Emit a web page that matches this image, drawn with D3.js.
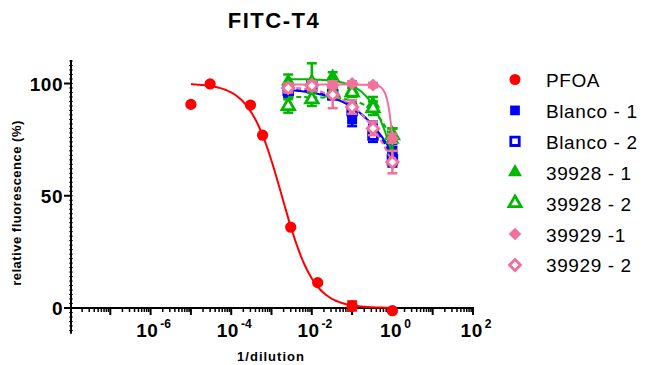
<!DOCTYPE html>
<html>
<head>
<meta charset="utf-8">
<script src="https://cdn.jsdelivr.net/npm/d3@7"></script>
<style>
  html, body { margin: 0; padding: 0; background: #fff; }
  svg text { font-family: Arial, "Liberation Sans", sans-serif; }
</style>
</head>
<body>
<svg id="chart" width="648" height="365"></svg>
<script>
// series
const seriesNames = ["PFOA", "Blanco - 1", "Blanco - 2", "39928 - 1", "39928 - 2", "39929 -1", "39929 - 2"];
const seriesColors = ["#ff0000", "#0000ff", "#0000ff", "#00b800", "#00b800", "#f2709c", "#f2709c"];
const seriesShapes = ["circle", "square", "square", "triangle", "triangle", "diamond", "diamond"];
const seriesOpen = [false, false, true, false, true, false, true];

// x values (1/dilution)
const pfoaX = [1e-5, 3e-5, 3e-4, 6e-4, 3e-3, 0.014, 0.1, 1];
const dilX = [0.0026, 0.01, 0.033, 0.1, 0.33, 1];

// y values (relative fluorescence %)
const pfoaY = [90.7, 99.8, 90.4, 77, 36, 11.3, 0.9, -1.2];
const blanco1Y = [96, 98, 97, 84, 80, 70];
const blanco2Y = [97, 99, 95, 88, 77, 66];
const t39928a = [101, 101, 103, 97, 91, 75];
const t39928b = [90, 93, 96, 96, 89, 77];
const t39929a = [98, 99.8, 99, 100, 99.3, 75.5];
const t39929b = [98, 99, 95, 89.5, 80, 65];

// error (SEM)
const pfoaErr = [0, 0, 0, 0, 0, 0, 2, 0];
const blanco1Err = [2, 2, 2, 3, 3, 3];
const blanco2Err = [2, 2, 2, 3, 3, 3];
const e39928a = [3, 8, 2, 2, 3, 5];
const e39928b = [3, 3, 2, 2, 3, 3];
const e39929a = [1, 1, 1, 1, 1, 2];
const e39929b = [2, 2, 6, 3, 3, 5];

// fitted 4PL curves: top, bottom, IC50, hill, x-range
const fitTop = [100, 98, 98, 102, 94, 99.5, 99];
const fitBottom = [0, 0, 0, 0, 0, 0, 0];
const fitIC50 = [1.8e-3, 3.9, 3.0, 1.8, 3.0, 1.25, 2.46];
const fitHill = [1.1, 0.64, 0.7, 1.2, 1.2, 5, 0.72];
const fitFrom = [1e-5, 0.0026, 0.0026, 0.0026, 0.0026, 0.0026, 0.0026];
const fitTo = [1, 1, 1, 1, 1, 1, 1];

// axis ticks
const xTickExp = [-6, -4, -2, 0, 2];
const yTicks = [0, 50, 100];

const allX = [pfoaX, dilX, dilX, dilX, dilX, dilX, dilX];
const allY = [pfoaY, blanco1Y, blanco2Y, t39928a, t39928b, t39929a, t39929b];
const allErr = [pfoaErr, blanco1Err, blanco2Err, e39928a, e39928b, e39929a, e39929b];

const svg = d3.select("#chart");

const x = d3.scaleLog().domain([1e-8, 1e2]).range([70, 473]);
const y = d3.scaleLinear().domain([0, 100]).range([308, 83.5]);

const axisX0 = 71;

// title
svg.append("text")
  .attr("x", 274).attr("y", 28)
  .attr("text-anchor", "middle")
  .attr("font-size", "22px").attr("font-weight", "bold")
  .attr("letter-spacing", "1.5px")
  .text("FITC-T4");

// y axis
const gy = svg.append("g");
gy.append("line")
  .attr("x1", axisX0).attr("x2", axisX0)
  .attr("y1", y(110.5)).attr("y2", y(-11.5))
  .attr("stroke", "#000").attr("stroke-width", 2);
// fine ticks along the axis
gy.selectAll(".ymin").data(d3.range(-10, 111, 2)).join("line")
  .attr("x1", axisX0 - 2).attr("x2", axisX0 + 2)
  .attr("y1", d => y(d)).attr("y2", d => y(d))
  .attr("stroke", "#000").attr("stroke-width", 0.8);
gy.selectAll(".ymaj").data(yTicks).join("line")
  .attr("x1", axisX0 - 7).attr("x2", axisX0)
  .attr("y1", d => y(d)).attr("y2", d => y(d))
  .attr("stroke", "#000").attr("stroke-width", 2);
gy.selectAll(".ylab").data(yTicks).join("text")
  .attr("x", 63).attr("y", d => y(d) + 7)
  .attr("text-anchor", "end")
  .attr("font-size", "19px").attr("font-weight", "bold")
  .attr("letter-spacing", "0.5px")
  .text(d => d);

svg.append("text")
  .attr("transform", `translate(21,${203}) rotate(-90)`)
  .attr("text-anchor", "middle")
  .attr("font-size", "13px").attr("font-weight", "bold")
  .attr("letter-spacing", "0.5px")
  .text("relative fluorescence (%)");

// x axis (crosses at y = 0)
const gx = svg.append("g");
const y0 = y(0);
gx.append("line")
  .attr("x1", axisX0).attr("x2", x(1e2) + 1)
  .attr("y1", y0).attr("y2", y0)
  .attr("stroke", "#000").attr("stroke-width", 2);
const decades = d3.range(-8, 3);
const minorTicks = [];
decades.slice(0, -1).forEach(e => { for (let m = 2; m <= 9; m++) minorTicks.push(m * Math.pow(10, e)); });
gx.selectAll(".xmin").data(minorTicks).join("line")
  .attr("x1", d => x(d)).attr("x2", d => x(d))
  .attr("y1", y0).attr("y2", y0 + 4)
  .attr("stroke", "#000").attr("stroke-width", 1.5);
gx.selectAll(".xmaj").data(decades.slice(1).map(e => Math.pow(10, e))).join("line")
  .attr("x1", d => x(d)).attr("x2", d => x(d))
  .attr("y1", y0).attr("y2", y0 + 7)
  .attr("stroke", "#000").attr("stroke-width", 2);
const xl = gx.selectAll(".xlab").data(xTickExp).join("text")
  .attr("x", d => x(Math.pow(10, d)) + 3).attr("y", 337)
  .attr("text-anchor", "middle")
  .attr("font-size", "19px").attr("font-weight", "bold");
xl.append("tspan").attr("letter-spacing", "0.5px").text("10");
xl.append("tspan").attr("dy", -9).attr("font-size", "12px").attr("dx", 2)
  .text(d => d < 0 ? "-" + Math.abs(d) : d);

svg.append("text")
  .attr("x", 271).attr("y", 361)
  .attr("text-anchor", "middle")
  .attr("font-size", "13px").attr("font-weight", "bold")
  .attr("letter-spacing", "1px")
  .text("1/dilution");

// symbols (diamond = square turned 45 degrees)
const shapeMap = { circle: d3.symbolCircle, square: d3.symbolSquare, triangle: d3.symbolTriangle, diamond: d3.symbolSquare };
const sizeMap = { circle: 100, square: 100, triangle: 90, diamond: 85 };
function drawSymbol(g, i, cx, cy, scale) {
  const sh = seriesShapes[i];
  const open = seriesOpen[i];
  const sz = sizeMap[sh] * (open ? 0.75 : 1) * scale;
  const rot = sh === "diamond" ? " rotate(45)" : "";
  g.append("path")
    .attr("transform", `translate(${cx},${cy})${rot}`)
    .attr("d", d3.symbol().type(shapeMap[sh]).size(sz)())
    .attr("fill", open ? "#fff" : seriesColors[i])
    .attr("stroke", open ? seriesColors[i] : "none")
    .attr("stroke-width", open ? 2.8 : 0);
}

const plot = svg.append("g");
const line = d3.line().x(d => x(d[0])).y(d => y(d[1])).curve(d3.curveBasis);

seriesNames.forEach((name, i) => {
  const g = plot.append("g");
  // fitted curve
  const lo = Math.log10(fitFrom[i]), hi = Math.log10(fitTo[i]);
  const pts = d3.range(0, 121).map(k => {
    const xv = Math.pow(10, lo + (hi - lo) * k / 120);
    const yv = fitBottom[i] + (fitTop[i] - fitBottom[i]) / (1 + Math.pow(xv / fitIC50[i], fitHill[i]));
    return [xv, yv];
  });
  g.append("path")
    .attr("d", line(pts))
    .attr("fill", "none")
    .attr("stroke", seriesColors[i])
    .attr("stroke-width", 2)
    .attr("stroke-dasharray", seriesOpen[i] ? "5,3" : null);

  // error bars
  allX[i].forEach((xv, j) => {
    const e = allErr[i][j];
    if (!e) return;
    const cx = x(xv), v = allY[i][j];
    g.append("line")
      .attr("x1", cx).attr("x2", cx).attr("y1", y(v - e)).attr("y2", y(v + e))
      .attr("stroke", seriesColors[i]).attr("stroke-width", 2.5);
    [v - e, v + e].forEach(ev => {
      g.append("line")
        .attr("x1", cx - 5).attr("x2", cx + 5).attr("y1", y(ev)).attr("y2", y(ev))
        .attr("stroke", seriesColors[i]).attr("stroke-width", 2.5);
    });
  });

  // points
  allX[i].forEach((xv, j) => drawSymbol(g, i, x(xv), y(allY[i][j]), 1));
});

// legend
const leg = svg.append("g");
seriesNames.forEach((name, i) => {
  const ly = 79.5 + i * 30.9;
  drawSymbol(leg, i, 515, ly, 0.95);
  leg.append("text")
    .attr("x", 546).attr("y", ly + 7.5)
    .attr("font-size", "19px")
    .attr("letter-spacing", "0.6px")
    .text(name);
});
</script>
</body>
</html>
